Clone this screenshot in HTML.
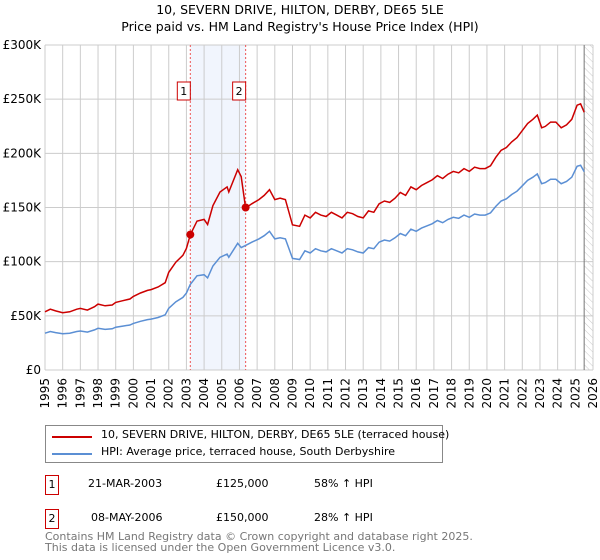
<!DOCTYPE html>
<html><head><meta charset="utf-8"><style>
body{margin:0;background:#fff;font-family:"DejaVu Sans","Liberation Sans",sans-serif;}
#wrap{position:relative;width:600px;height:560px;overflow:hidden}
</style></head><body>
<div id="wrap">
<svg id="chart" width="600" height="560" style="position:absolute;left:0;top:0">
<defs><pattern id="hatch" width="5" height="5" patternUnits="userSpaceOnUse" patternTransform="rotate(-45)"><line x1="0" y1="0" x2="0" y2="5" stroke="#bbb" stroke-width="0.8"/></pattern></defs>
<text x="300" y="14" text-anchor="middle" font-size="12.5" fill="#000">10, SEVERN DRIVE, HILTON, DERBY, DE65 5LE</text>
<text x="300" y="31" text-anchor="middle" font-size="12.5" fill="#000">Price paid vs. HM Land Registry's House Price Index (HPI)</text>
<g id="plot"></g>
</svg>
<div style="position:absolute;left:45px;top:425px;width:396px;height:36px;border:1px solid #888;font-size:11px">
 <div style="position:absolute;left:6px;top:10px;width:40px;height:2px;background:#cc0000"></div>
 <div style="position:absolute;left:55px;top:2px;white-space:nowrap">10, SEVERN DRIVE, HILTON, DERBY, DE65 5LE (terraced house)</div>
 <div style="position:absolute;left:6px;top:27px;width:40px;height:2px;background:#5b8fd4"></div>
 <div style="position:absolute;left:55px;top:19px;white-space:nowrap">HPI: Average price, terraced house, South Derbyshire</div>
</div>
<div style="font-size:11px">
 <div style="position:absolute;left:45px;top:475px;width:12px;height:18px;border:1px solid #cc0000;text-align:center;line-height:18px">1</div>
 <div style="position:absolute;left:88px;top:477px">21-MAR-2003</div>
 <div style="position:absolute;left:216px;top:477px">£125,000</div>
 <div style="position:absolute;left:314px;top:477px">58% ↑ HPI</div>
 <div style="position:absolute;left:45px;top:509px;width:12px;height:18px;border:1px solid #cc0000;text-align:center;line-height:18px">2</div>
 <div style="position:absolute;left:91px;top:511px">08-MAY-2006</div>
 <div style="position:absolute;left:216px;top:511px">£150,000</div>
 <div style="position:absolute;left:314px;top:511px">28% ↑ HPI</div>
</div>
<div style="position:absolute;left:45px;top:531px;font-size:11px;color:#777;line-height:11px">Contains HM Land Registry data © Crown copyright and database right 2025.<br>This data is licensed under the Open Government Licence v3.0.</div>
</div>
<script>
const yearTicks=[1995,1996,1997,1998,1999,2000,2001,2002,2003,2004,2005,2006,2007,2008,2009,2010,2011,2012,2013,2014,2015,2016,2017,2018,2019,2020,2021,2022,2023,2024,2025,2026];
const valueTicks=[0,50000,100000,150000,200000,250000,300000];
const valueTickLabels=["£0","£50K","£100K","£150K","£200K","£250K","£300K"];
const hpiDates=[1995,1995.3,1995.6,1996,1996.4,1996.8,1997,1997.4,1997.8,1998,1998.4,1998.8,1999,1999.4,1999.8,2000,2000.4,2000.8,2001,2001.4,2001.8,2002,2002.4,2002.8,2003,2003.22,2003.6,2004,2004.2,2004.5,2004.9,2005.3,2005.4,2005.9,2006.1,2006.35,2006.7,2007.1,2007.4,2007.7,2008,2008.3,2008.6,2009,2009.4,2009.7,2010,2010.3,2010.6,2010.9,2011.2,2011.5,2011.8,2012.1,2012.4,2012.7,2013,2013.3,2013.6,2013.9,2014.2,2014.5,2014.8,2015.1,2015.4,2015.7,2016,2016.3,2016.6,2016.9,2017.2,2017.5,2017.8,2018.1,2018.4,2018.7,2019,2019.3,2019.6,2019.9,2020.2,2020.5,2020.8,2021.1,2021.4,2021.7,2022,2022.3,2022.6,2022.85,2023.1,2023.3,2023.6,2023.9,2024.2,2024.5,2024.8,2025.1,2025.3,2025.5];
const hpiValues=[34000,35500,34500,33500,34000,35500,36000,35000,37000,38500,37500,38000,39500,40500,41500,43000,45000,46500,47000,48500,51000,57000,63000,67000,71000,79000,87000,88000,85000,96000,104000,107000,104000,117000,113000,115000,118000,121000,124000,128000,121000,122000,121000,103000,102000,110000,108000,112000,110000,109000,112000,110000,108000,112000,111000,109000,108000,113000,112000,118000,120000,119000,122000,126000,124000,130000,128000,131000,133000,135000,138000,136000,139000,141000,140000,143000,141000,144000,143000,143000,145000,151000,156000,158000,162000,165000,170000,175000,178000,181000,172000,173000,176000,176000,172000,174000,178000,188000,189000,183000];
const saleDates=[2003.22,2006.35];
const salePrices=[125000,150000];
const saleLabels=["1","2"];
const ratios=[1.58,1.30];
const NS="http://www.w3.org/2000/svg";
const X0=45,X1=593,Y0=370,Y1=45,DATA_END=2025.5;
function xs(t){return X0+(t-1995)/(2026-1995)*(X1-X0);}
function ys(v){return Y0-(v/300000)*(Y0-Y1);}
const g=document.getElementById('plot');
function mk(tag,attrs){const e=document.createElementNS(NS,tag);for(const k in attrs)e.setAttribute(k,attrs[k]);g.appendChild(e);return e;}
let e=mk('rect',{x:xs(saleDates[0]),y:Y1,width:xs(saleDates[1])-xs(saleDates[0]),height:Y0-Y1,fill:'#eef3fc',opacity:0.8});


e=mk('rect',{x:xs(DATA_END),y:Y1,width:X1-xs(DATA_END),height:Y0-Y1,fill:'url(#hatch)'});


yearTicks.forEach(t=>{
 const l=mk('line',{x1:xs(t),x2:xs(t),y1:Y1,y2:Y0,stroke:'#ccc','stroke-width':1});
 
 
 const tx=mk('text',{x:0,y:0,'font-size':12,'text-anchor':'end',transform:`translate(${xs(t)+4},${Y0+8}) rotate(-90)`});
 tx.textContent=t;
 
 
});
valueTicks.forEach((v,i)=>{
 const l=mk('line',{x1:X0,x2:X1,y1:ys(v),y2:ys(v),stroke:'#ccc','stroke-width':1});
 
 
 const tx=mk('text',{x:X0-4,y:ys(v)+4,'font-size':12,'text-anchor':'end'});
 tx.textContent=valueTickLabels[i];
 
 
});
e=mk('line',{x1:xs(DATA_END),x2:xs(DATA_END),y1:Y1,y2:Y0,stroke:'#777','stroke-width':1});


saleDates.forEach((d,i)=>{
 const l=mk('line',{x1:xs(d),x2:xs(d),y1:Y1,y2:Y0,stroke:'#e55','stroke-width':1,'stroke-dasharray':'2,2'});
 
 
 const b=mk('rect',{x:xs(d)-13,y:82,width:13,height:18,fill:'#fff',stroke:'#cc0000'});
 
 
 const tx=mk('text',{x:xs(d)-6.5,y:95,'font-size':11,'text-anchor':'middle'});
 tx.textContent=saleLabels[i];
 
 
});
const bluePts=hpiDates.map((d,i)=>xs(d).toFixed(1)+','+ys(hpiValues[i]).toFixed(1));
e=mk('polyline',{points:bluePts.join(' '),fill:'none',stroke:'#5b8fd4','stroke-width':1.5});


const redPts=hpiDates.map((d,i)=>{const r=d<saleDates[1]?ratios[0]:ratios[1];return xs(d).toFixed(1)+','+ys(hpiValues[i]*r).toFixed(1);});
e=mk('polyline',{points:redPts.join(' '),fill:'none',stroke:'#cc0000','stroke-width':1.5});


saleDates.forEach((d,i)=>{
 const c=mk('circle',{cx:xs(d),cy:ys(salePrices[i]),r:4,fill:'#cc0000'});
 
 
});
</script>
</body></html>
